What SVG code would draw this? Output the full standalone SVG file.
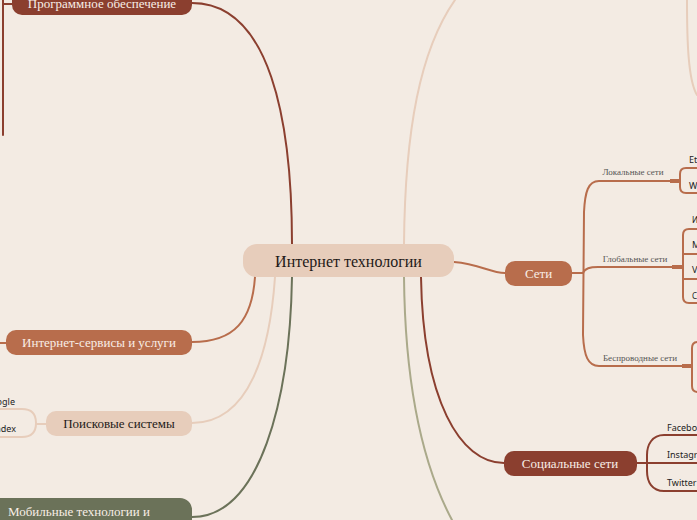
<svg xmlns="http://www.w3.org/2000/svg" width="697" height="520" viewBox="0 0 697 520">
<style>
.bg{fill:#f3ebe3}
.ln{fill:none;stroke-width:2;stroke-linecap:round}
.rust{stroke:#8b3f2f}
.orng{stroke:#b86d4c}
.peach{stroke:#e7cdbb}
.olive{stroke:#6b7259}
.lolive{stroke:#aaa98a}
.stub{fill:none;stroke-width:4}
.nt{font-family:"Liberation Serif",serif;font-size:13px;fill:#f8eee6;text-anchor:middle}
.nd{font-family:"Liberation Serif",serif;font-size:13px;fill:#1e1a18;text-anchor:middle}
.bl{font-family:"Liberation Serif",serif;font-size:9px;fill:#555;text-anchor:middle}
.ch{font-family:"Noto Sans",sans-serif;font-size:9px;fill:#222}
</style>
<rect class="bg" x="0" y="0" width="697" height="520"/>
<g id="connectors">
  <path class="ln rust" d="M192,3 C270,3 292,120 292,244"/>
  <path class="ln rust" d="M12,4 H3 M3,0 V135"/>
  <path class="ln orng" d="M192,342 C235,342 252,320 255,277"/>
  <path class="ln orng" d="M0,343 H6"/>
  <path class="ln peach" d="M192,423 C250,423 270,350 275,277"/>
  <path class="ln peach" d="M0,409 H22 Q36,409 36,423 Q36,437 22,437 H0 M36,424 H46"/>
  <path class="ln olive" d="M192,517 C260,517 290,400 292,277"/>
  <path class="ln rust" d="M421,277 C423,400 460,463 504,463"/>
  <path class="ln lolive" d="M404,277 C405,380 420,460 452,520"/>
  <path class="ln peach" d="M404,244 C405,130 420,50 455,0"/>
  <path class="ln peach" d="M687,0 C687,40 688,80 697,95"/>
  <path class="ln orng" d="M454,262 C480,264 490,273 505,273"/>
  <!-- Сети children -->
  <path class="ln orng" d="M572,273 H583"/>
  <path class="ln orng" d="M670,181 H599 C588,181 585,192 584,212 L583,335 C584,356 588,366 599,366 H682"/>
  <path class="ln orng" d="M583,273 C585,268 590,267 598,267 H672"/>
  <path class="stub orng" d="M670,181 H680 M672,267 H683 M682,366 H692"/>
  <path class="ln orng" d="M697,168 H686 Q680,168 680,174 V187 Q680,193 686,193 H697"/>
  <path class="ln orng" d="M697,229 H689 Q683,229 683,235 V297 Q683,303 689,303 H697 M683,254 H697 M683,279 H697"/>
  <path class="ln orng" d="M697,342 H698 Q692,342 692,348 V386 Q692,392 698,392"/>
  <!-- Социальные сети children -->
  <path class="ln rust" d="M697,435 H664 C652,435 647,445 647,455 V471 C647,482 652,491 664,491 H697 M637,463 H697"/>
</g>
<g id="center">
  <rect x="243" y="244" width="211" height="33" rx="14" fill="#e7cdbb"/>
  <text x="348.5" y="267" class="nd" style="font-size:16px">Интернет технологии</text>
</g>
<g id="software">
  <rect x="12" y="-12" width="180" height="27" rx="10" fill="#8b3f2f"/>
  <text x="102" y="8" class="nt">Программное обеспечение</text>
</g>
<g id="services">
  <rect x="6" y="330" width="186" height="25" rx="10" fill="#b86d4c"/>
  <text x="99" y="347" class="nt">Интернет-сервисы и услуги</text>
</g>
<g id="search">
  <rect x="46" y="411" width="146" height="25" rx="10" fill="#e7cdbb"/>
  <text x="119" y="428" class="nd">Поисковые системы</text>
  <text x="15" y="405" class="ch" text-anchor="end">Google</text>
  <text x="16" y="432" class="ch" text-anchor="end">Yandex</text>
</g>
<g id="mobile">
  <rect x="-20" y="498" width="212" height="40" rx="12" fill="#6b7259"/>
  <text x="79" y="516" class="nt">Мобильные технологии и</text>
</g>
<g id="networks">
  <rect x="505" y="261" width="67" height="25" rx="10" fill="#b86d4c"/>
  <text x="538.5" y="278" class="nt">Сети</text>
  <text x="633" y="175" class="bl">Локальные сети</text>
  <text x="635" y="262" class="bl">Глобальные сети</text>
  <text x="640" y="361" class="bl">Беспроводные сети</text>
  <text x="689" y="163" class="ch">Ethernet</text>
  <text x="689" y="189" class="ch">Wi-Fi</text>
  <text x="692" y="223" class="ch" style="font-size:8px">Интернет</text>
  <text x="692" y="248" class="ch">MAN</text>
  <text x="692" y="273" class="ch">VPN</text>
  <text x="692" y="299" class="ch" style="font-size:8px">Сотовые</text>
</g>
<g id="social">
  <rect x="504" y="451" width="133" height="25" rx="10" fill="#8b3f2f"/>
  <text x="570" y="468" class="nt">Социальные сети</text>
  <text x="667" y="431" class="ch">Facebook</text>
  <text x="667" y="458" class="ch">Instagram</text>
  <text x="667" y="486" class="ch">Twitter</text>
</g>
</svg>
